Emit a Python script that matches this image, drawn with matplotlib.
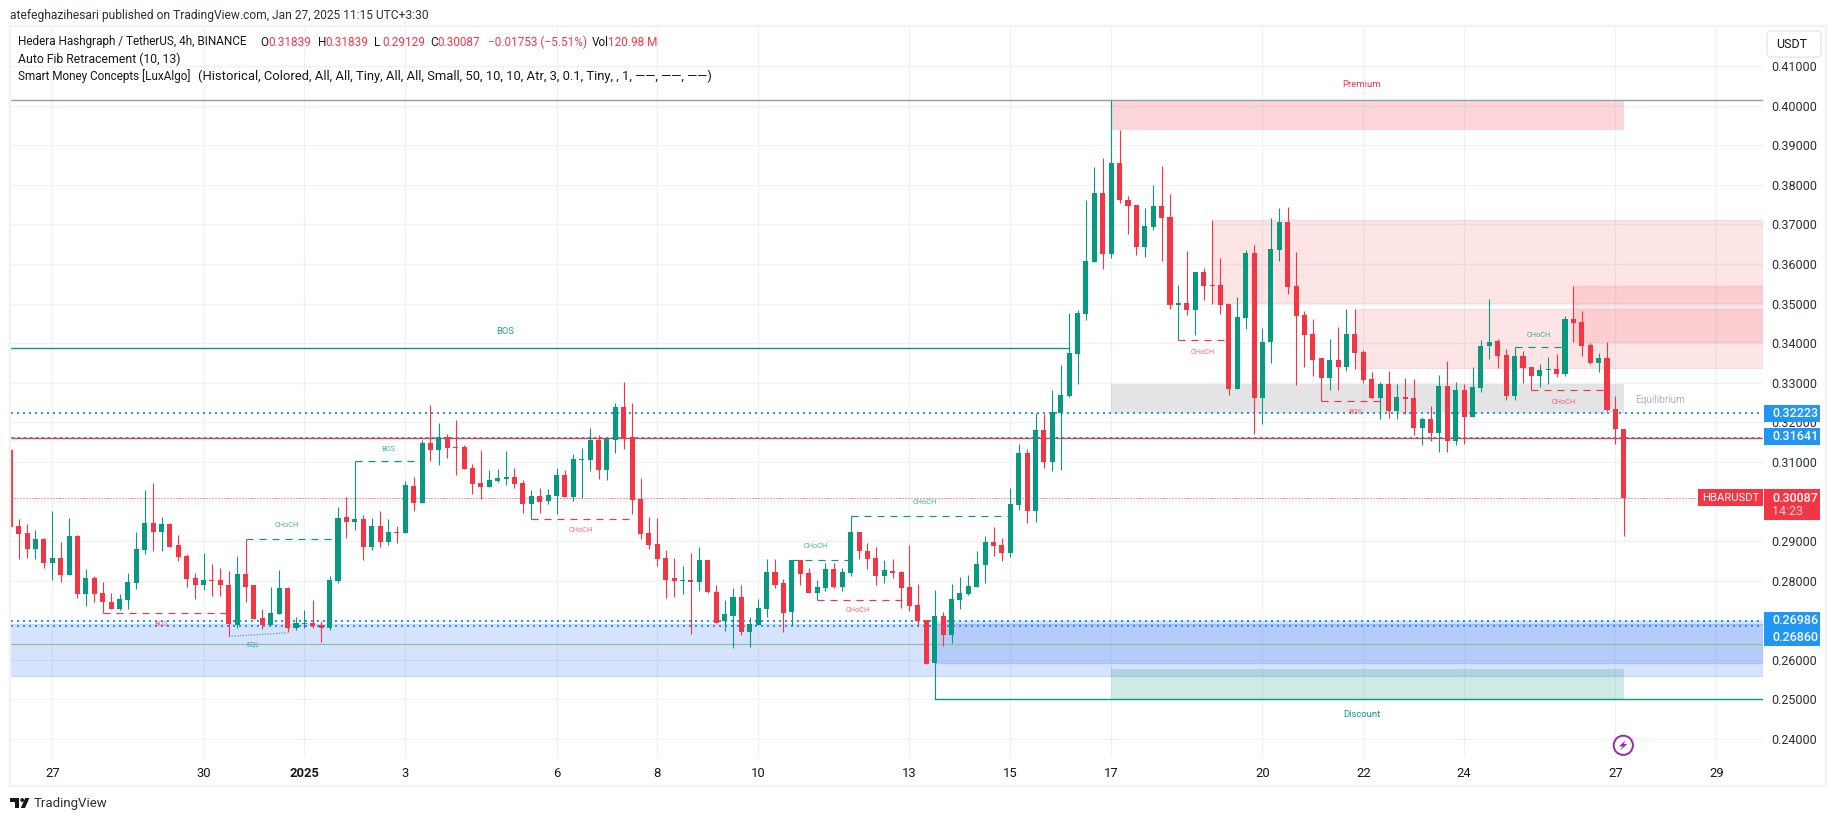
import numpy as np
import matplotlib
matplotlib.use("Agg")
import matplotlib.pyplot as plt
from matplotlib.patches import Rectangle, Circle, Polygon, FancyBboxPatch
from matplotlib.colors import to_rgba

plt.rcParams['font.family'] = ['Roboto', 'DejaVu Sans']

# ---- candles (4h bars, index 0 = 27 Dec) ----
first_bar = -5
opens = [
 .3129,.2937,.2919,.2881,.2904,.2844,.2856,.2813,.2912,.2765,
 .2806,.2768,.2747,.2727,.2750,.2793,.2876,.2945,.2924,.2942,
 .2889,.2861,.2806,.2788,.2801,.2801,.2790,.2687,.2816,.2788,
 .2705,.2687,.2715,.2780,.2679,.2689,.2694,.2687,.2679,.2798,
 .2960,.2947,.2955,.2884,.2937,.2897,.2924,.2919,.3038,.2995,
 .3147,.3129,.3164,.3137,.3137,.3084,.3046,.3036,.3051,.3056,
 .3061,.3046,.2993,.3013,.3000,.3013,.3068,.3010,.3104,.3104,
 .3154,.3079,.3154,.3238,.3164,.3005,.2919,.2892,.2856,.2806,
 .2798,.2801,.2796,.2851,.2770,.2697,.2710,.2758,.2669,.2687,
 .2727,.2821,.2793,.2720,.2851,.2818,.2768,.2780,.2828,.2785,
 .2818,.2922,.2874,.2856,.2811,.2823,.2821,.2784,.2738,.2700,
 .2592,.2710,.2662,.2751,.2766,.2784,.2839,.2897,.2890,.2870,
 .2991,.3122,.2976,.3181,.3100,.3223,.3266,.3373,.3474,.3605,
 .3779,.3625,.3855,.3762,.3749,.3643,.3694,.3747,.3719,.3496,
 .3501,.3484,.3580,.3547,.3547,.3499,.3284,.3464,.3628,.3261,
 .3403,.3635,.3706,.3544,.3471,.3423,.3362,.3312,.3357,.3340,
 .3423,.3378,.3309,.3261,.3297,.3228,.3264,.3261,.3186,.3208,
 .3173,.3292,.3153,.3282,.3213,.3287,.3393,.3405,.3370,.3266,
 .3367,.3340,.3317,.3332,.3335,.3322,.3461,.3453,.3395,.3350,.3362,.3233,.31839]
highs = [
 .3138,.2956,.2944,.2927,.2907,.2977,.2897,.2957,.2914,.2828,
 .2811,.2796,.2768,.2765,.2818,.2922,.3028,.3046,.2960,.2945,
 .2914,.2866,.2818,.2869,.2841,.2833,.2823,.2861,.2906,.2788,
 .2727,.2785,.2826,.2785,.2707,.2725,.2750,.2699,.2811,.2985,
 .3010,.3101,.2965,.2957,.2975,.2955,.2937,.3051,.3061,.3154,
 .3243,.3197,.3170,.3205,.3142,.3094,.3129,.3079,.3081,.3127,
 .3084,.3053,.3028,.3033,.3031,.3084,.3079,.3119,.3134,.3185,
 .3167,.3159,.3250,.3301,.3250,.3058,.2960,.2957,.2876,.2856,
 .2836,.2869,.2886,.2851,.2790,.2750,.2780,.2788,.2707,.2753,
 .2854,.2854,.2803,.2851,.2851,.2833,.2801,.2844,.2844,.2833,
 .2964,.2924,.2894,.2884,.2851,.2854,.2823,.2890,.2791,.2700,
 .2776,.2720,.2791,.2809,.2814,.2875,.2912,.2935,.2907,.3034,
 .3145,.3133,.3223,.3221,.3282,.3345,.3476,.3484,.3762,.3845,
 .3868,.4014,.3939,.3772,.3749,.3742,.3800,.3848,.3777,.3547,
 .3633,.3580,.3590,.3711,.3615,.3499,.3517,.3635,.3648,.3438,
 .3716,.3742,.3744,.3630,.3481,.3461,.3362,.3410,.3441,.3486,
 .3486,.3383,.3327,.3302,.3330,.3297,.3312,.3309,.3213,.3241,
 .3320,.3355,.3302,.3297,.3340,.3408,.3512,.3411,.3385,.3390,
 .3380,.3340,.3347,.3365,.3373,.3469,.3544,.3481,.3400,.3375,.3403,.3266,.31839]
lows = [
 .2927,.2854,.2856,.2854,.2833,.2801,.2796,.2813,.2755,.2737,
 .2745,.2719,.2727,.2725,.2727,.2778,.2866,.2874,.2874,.2886,
 .2849,.2785,.2753,.2775,.2760,.2760,.2659,.2679,.2747,.2702,
 .2677,.2687,.2715,.2669,.2674,.2679,.2679,.2644,.2674,.2793,
 .2907,.2927,.2851,.2876,.2884,.2889,.2894,.2919,.2977,.2995,
 .3101,.3091,.3111,.3068,.3081,.3020,.3005,.3036,.3048,.3041,
 .3033,.2972,.2956,.2972,.2993,.2967,.3010,.3000,.3009,.3076,
 .3056,.3053,.3122,.3132,.2967,.2904,.2881,.2838,.2755,.2758,
 .2765,.2664,.2773,.2768,.2692,.2672,.2629,.2662,.2631,.2687,
 .2707,.2780,.2669,.2684,.2790,.2768,.2752,.2773,.2780,.2773,
 .2811,.2854,.2828,.2790,.2793,.2806,.2730,.2723,.2688,.2589,
 .2500,.2635,.2642,.2728,.2763,.2784,.2794,.2862,.2849,.2859,
 .2978,.2945,.2948,.3084,.3077,.3079,.3264,.3297,.3459,.3605,
 .3587,.3615,.3754,.3676,.3623,.3618,.3686,.3608,.3486,.3408,
 .3471,.3421,.3509,.3499,.3474,.3269,.3284,.3436,.3170,.3196,
 .3350,.3608,.3524,.3294,.3340,.3317,.3255,.3282,.3282,.3330,
 .3335,.3299,.3261,.3208,.3211,.3208,.3221,.3168,.3143,.3153,
 .3125,.3125,.3143,.3145,.3213,.3277,.3360,.3337,.3256,.3256,
 .3299,.3281,.3289,.3297,.3314,.3317,.3403,.3367,.3347,.3327,.3228,.3145,.29129]
closes = [
 .2935,.2917,.2881,.2904,.2844,.2856,.2813,.2912,.2765,.2806,
 .2765,.2745,.2727,.2753,.2796,.2879,.2945,.2924,.2942,.2886,
 .2859,.2803,.2788,.2801,.2798,.2788,.2689,.2816,.2785,.2702,
 .2687,.2717,.2780,.2679,.2692,.2694,.2684,.2679,.2801,.2957,
 .2947,.2955,.2884,.2937,.2897,.2924,.2919,.3041,.2995,.3147,
 .3129,.3164,.3134,.3134,.3081,.3043,.3036,.3053,.3058,.3061,
 .3043,.2993,.3013,.2998,.3015,.3068,.3010,.3106,.3106,.3154,
 .3079,.3157,.3238,.3157,.3003,.2917,.2889,.2854,.2801,.2798,
 .2801,.2796,.2851,.2770,.2694,.2715,.2758,.2669,.2689,.2730,
 .2821,.2790,.2717,.2851,.2816,.2768,.2783,.2828,.2785,.2821,
 .2922,.2874,.2854,.2811,.2826,.2818,.2780,.2736,.2698,.2589,
 .2710,.2662,.2753,.2768,.2786,.2842,.2897,.2887,.2870,.2993,
 .3122,.2976,.3181,.3100,.3226,.3269,.3375,.3476,.3608,.3779,
 .3625,.3855,.3762,.3747,.3643,.3696,.3747,.3716,.3496,.3501,
 .3484,.3580,.3544,.3544,.3496,.3284,.3466,.3628,.3261,.3403,
 .3638,.3706,.3542,.3469,.3421,.3357,.3312,.3357,.3340,.3423,
 .3375,.3307,.3261,.3297,.3229,.3264,.3259,.3186,.3208,.3173,
 .3292,.3153,.3282,.3213,.3289,.3393,.3403,.3367,.3266,.3367,
 .3337,.3317,.3332,.3335,.3322,.3461,.3451,.3393,.3350,.3362,.3231,.3183,.30087]

# ---- axes labels ----
time_tick_bars = [0, 18, 30, 42, 60, 72, 84, 102, 114, 126, 144, 156, 168, 186, 198]
time_tick_labels = ['27', '30', '2025', '3', '6', '8', '10', '13', '15', '17', '20', '22', '24', '27', '29']
price_ticks = [.24, .25, .26, .27, .28, .29, .30, .31, .32, .33, .34, .35, .36, .37, .38, .39, .40, .41]

# ---- levels ----
fib_levels_dotted = [0.32223, 0.26986, 0.26860]
fib_level_fine = 0.31641
red_level = 0.3161
last_price = 0.30087
swing_high_level = 0.4014
eql_level = 0.2640
major_bos_level = 0.3389
major_bos_end_bar = 121
discount_level = 0.2500
discount_start_bar = 105

# ---- zones: start bar, end bar (None = to the right edge), top, bottom ----
red_zones = [(138, None, .3711, .3501), (155, None, .3486, .3336), (181, None, .3544, .3404)]
premium_zone = (126, 187, .4014, .3939)
equilibrium_zone = (126, 187, .3297, .3224)
discount_zone = (126, 187, .2577, .2500)
blue_zones = [(None, None, .2689, .2560), (105, None, .2690, .2592), (105, None, .2699, .2690)]

# ---- structure breaks ----
struct_start = [6, 23, 36, 57, 95, 88, 91, 134, 151, 174, 176]
struct_end = [21, 34, 44, 69, 114, 95, 102, 140, 158, 180, 185]
struct_price = [.2719, .2906, .3101, .2956, .2964, .2853, .2752, .3408, .3255, .3390, .3281]
struct_side = ['r', 'g', 'g', 'r', 'g', 'g', 'r', 'r', 'r', 'g', 'r']
struct_text = ['BOS', 'CHoCH', 'BOS', 'CHoCH', 'CHoCH', 'CHoCH', 'CHoCH', 'CHoCH', 'BOS', 'CHoCH', 'CHoCH']
struct_text_bar = [13, 27.9, 40, 62.9, 103.8, 90.9, 95.9, 136.9, 155, 176.9, 179.9]
struct_text_price = [.2689, .2940, .3132, .2927, .2998, .2887, .2725, .3377, .3225, .3420, .3250]
eql_bars = [21, 28]
eql_prices = [.2659, .2668]

RED = '#f23645'
GREEN = '#089981'
BLUE = '#2196f3'
ZONE_BLUE = '#2a6cf5'
GRID = '#f0f1f4'
FRAME = '#f0f2f8'
INK = '#131722'
W, H = 1835, 821
L_PX, R_PX, T_PX, B_PX = 10.5, 1763, 27, 758
px = 1 / 100 * 72  # points per pixel

fig = plt.figure(figsize=(W / 100, H / 100), dpi=100, facecolor='white')
ax = fig.add_axes([L_PX / W, 1 - B_PX / H, (R_PX - L_PX) / W, (B_PX - T_PX) / H], facecolor='none')
ax.set_xlim(-4.97, 203.56)
ax.set_ylim(0.23516, 0.41990)
for s in ax.spines.values():
    s.set_visible(False)
ax.yaxis.tick_right()
ax.set_xticks(time_tick_bars)
ax.set_xticklabels(time_tick_labels, fontsize=13 * px, color=INK)
for lab, txt in zip(ax.get_xticklabels(), time_tick_labels):
    if txt == '2025':
        lab.set_fontweight('bold')
ax.set_yticks(price_ticks)
ax.set_yticklabels([f'{p:.5f}' for p in price_ticks], fontsize=12.5 * px, color='#2a2e39')
ax.tick_params(axis='both', length=0)
ax.tick_params(axis='x', pad=6.3)
ax.tick_params(axis='y', pad=6.2)
ax.grid(True, color=GRID, lw=0.9)
ax.set_axisbelow(True)
xmin, xmax = ax.get_xlim()


def zone(spec, color, alpha, edge=False, z=1.6):
    x0, x1, top, bot = spec
    x0 = xmin if x0 is None else x0
    x1 = xmax if x1 is None else x1
    ax.add_patch(Rectangle((x0, bot), x1 - x0, top - bot, facecolor=to_rgba(color, alpha),
                           edgecolor=to_rgba(color, alpha) if edge else 'none',
                           lw=0.8 if edge else 0, zorder=z))


for b in blue_zones:
    zone(b, ZONE_BLUE, 0.19, edge=b[3] != .2690)
for r in red_zones:
    zone(r, RED, 0.13, edge=True)
zone(premium_zone, RED, 0.2)
zone(equilibrium_zone, '#787b86', 0.2)
zone(discount_zone, GREEN, 0.2)

# levels
ax.axhline(swing_high_level, color='#8d9cc4', lw=1.0, zorder=2)
ax.axhline(red_level, color=RED, lw=0.85, zorder=2.1)
for lv in fib_levels_dotted:
    ax.axhline(lv, color=BLUE, lw=2 * px, ls=(0, (1, 2)), zorder=2.2)
ax.axhline(fib_level_fine, color=BLUE, lw=1 * px, ls=(0, (3, 3)), zorder=2.2)
ax.axhline(eql_level, color='#8cc09a', lw=0.85, zorder=2)
ax.axhline(last_price, color=RED, lw=1 * px, ls=(0, (1, 2)), zorder=2.2)
ax.plot([xmin, major_bos_end_bar], [major_bos_level] * 2, color=GREEN, lw=1.0, zorder=2.3)
ax.plot([discount_start_bar, xmax], [discount_level] * 2, color=GREEN, lw=1.0, zorder=2.3)
ax.plot(eql_bars, eql_prices, color='#5fb4c0', lw=1.0, ls=(0, (1, 1)), zorder=2.3)

# structure dashes and labels
for x0, x1, p, side, t_, tx, tp in zip(struct_start, struct_end, struct_price, struct_side,
                                       struct_text, struct_text_bar, struct_text_price):
    c_ = RED if side == 'r' else GREEN
    ax.plot([x0, x1], [p, p], color=c_, lw=0.85, ls=(0, (6, 5)), zorder=2.4)
    ax.text(tx, tp, t_, color=c_, alpha=0.75, fontsize=7.4 * px, ha='center', va='center', zorder=3)
ax.text(53.9, .3429, 'BOS', color=GREEN, alpha=0.9, fontsize=9.5 * px, ha='center', va='center', zorder=3)
ax.text(23.9, .2638, 'EQL', color=GREEN, alpha=0.75, fontsize=7.4 * px, ha='center', va='center', zorder=3)
ax.text(155.8, .4053, 'Premium', color=RED, fontsize=9.5 * px, ha='center', va='center', zorder=3)
ax.text(155.8, .2461, 'Discount', color=GREEN, fontsize=9.5 * px, ha='center', va='center', zorder=3)
ax.text(191.3, .3257, 'Equilibrium', color='#b2b5be', fontsize=10 * px, ha='center', va='center', zorder=3)

# candles
bars = np.arange(first_bar, first_bar + len(opens))
o, h, l, c = map(np.array, (opens, highs, lows, closes))
colors = np.where(c < o, RED, GREEN)
ax.vlines(bars, l, h, colors=colors, lw=1 * px * 1.1, zorder=5)
ax.bar(bars, np.abs(c - o), bottom=np.minimum(o, c), width=0.6, color=colors, lw=0, zorder=5.1)

# page furniture (pixel coordinates)
ov = fig.add_axes([0, 0, 1, 1], facecolor='none', zorder=5)
ov.set_xlim(0, W)
ov.set_ylim(H, 0)
ov.axis('off')
ov.add_patch(Rectangle((9.5, 26), 1816, 760, fill=False, edgecolor=FRAME, lw=2.4 * px))


def t(x, y, s, color=INK, size=11.8, **kw):
    kw.setdefault('va', 'center')
    ov.text(x, y, s, color=color, fontsize=size * px, **kw)


t(10, 15, 'atefeghazihesari published on TradingView.com, Jan 27, 2025 11:15 UTC+3:30', color='#2a2e39', size=12)
t(18, 42, 'Hedera Hashgraph / TetherUS, 4h, BINANCE')
for x, s, col in [(260, 'O', INK), (268, '0.31839', RED), (317.5, 'H', INK), (325.7, '0.31839', RED),
                  (374, 'L', INK), (382, '0.29129', RED), (430, 'C', INK), (437.7, '0.30087', RED),
                  (488, '−0.01753 (−5.51%)', RED), (592, 'Vol', INK), (608, '120.98 M', RED)]:
    t(x, 42, s, color=col)
t(18, 59, 'Auto Fib Retracement (10, 13)', size=12.2)
t(18, 76, 'Smart Money Concepts [LuxAlgo]')
t(198, 76, '(Historical, Colored, All, All, Tiny, All, All, Small, 50, 10, 10, '
           'Atr, 3, 0.1, Tiny, , 1, ——, ——, ——)', size=13)

# USDT button
ov.add_patch(FancyBboxPatch((1767, 31), 54, 26, boxstyle='round,pad=0,rounding_size=4',
                            facecolor='white', edgecolor='#e6e8ee', lw=1))
t(1776, 44, 'USDT', size=12.5)


def tag(x0, y0, x1, y1, color):
    ov.add_patch(Rectangle((x0, y0), x1 - x0, y1 - y0, facecolor=color, edgecolor='none'))


tag(1764, 405, 1820, 421.7, BLUE)
t(1772, 413.7, '0.32223', color='white', size=12.5, fontweight='medium')
tag(1764, 428, 1820, 445, BLUE)
t(1772, 436.7, '0.31641', color='white', size=12.5, fontweight='medium')
tag(1764, 612, 1820, 645.7, BLUE)
t(1772, 620.7, '0.26986', color='white', size=12.5, fontweight='medium')
t(1772, 637.7, '0.26860', color='white', size=12.5, fontweight='medium')
tag(1764, 489.3, 1820, 520, RED)
t(1772, 498, '0.30087', color='white', size=12.5, fontweight='medium')
t(1772, 511.7, '14:23', color='#fbd0d4', size=12.5)
tag(1698, 489.3, 1763, 506, RED)
t(1730.5, 498, 'HBARUSDT', color='white', size=11.2, ha='center')

# lightning marker
ov.add_patch(Circle((1623.3, 745.3), 9.6, facecolor='white', edgecolor='#9c27b0', lw=1.4))
ov.add_patch(Polygon([(1626, 740), (1619, 746.3), (1622.6, 746.3), (1620, 750.6),
                      (1627.2, 744), (1623.6, 744)], closed=True, facecolor='#9c27b0', edgecolor='none'))

# TradingView logo and wordmark
ov.add_patch(Polygon([(10, 798), (19.3, 798), (19.3, 808), (14.8, 808), (14.8, 801.8), (10, 801.8)],
                     closed=True, facecolor=INK, edgecolor='none'))
ov.add_patch(Circle((22.2, 800), 1.9, facecolor=INK, edgecolor='none'))
ov.add_patch(Polygon([(25.2, 798), (29.4, 798), (25, 808), (20.8, 808)], closed=True,
                     facecolor=INK, edgecolor='none'))
t(33.5, 803, 'TradingView', color='#2a2e39', size=13.2)

fig.savefig('out.png', dpi=100, facecolor='white')
